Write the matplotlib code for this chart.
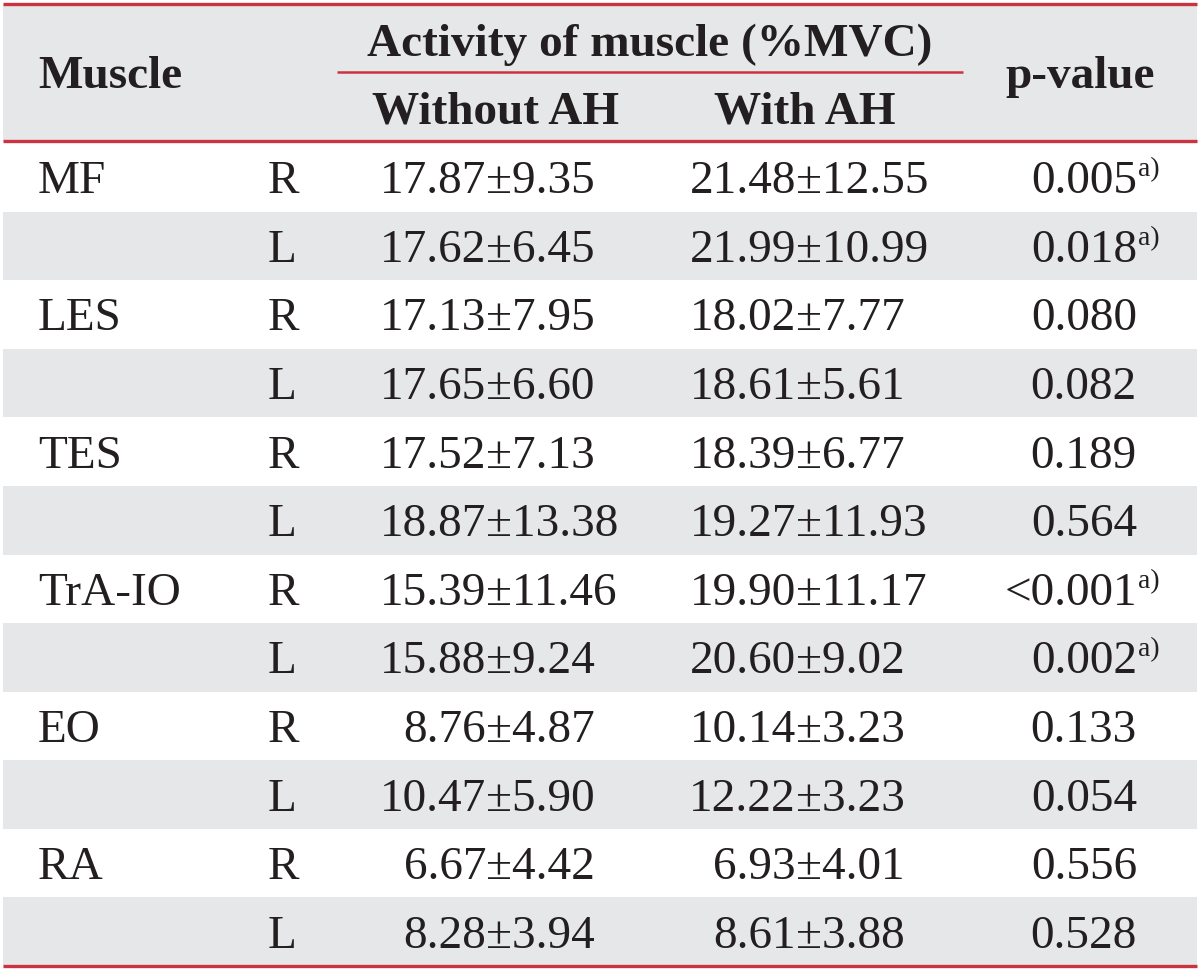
import matplotlib
matplotlib.use('Agg')
import matplotlib.pyplot as plt
from matplotlib.patches import Rectangle

# table contents
muscles = ['MF', 'LES', 'TES', 'TrA-IO', 'EO', 'RA']
sides = ['R', 'L']
without_mean = [17.87, 17.62, 17.13, 17.65, 17.52, 18.87, 15.39, 15.88, 8.76, 10.47, 6.67, 8.28]
without_sd = [9.35, 6.45, 7.95, 6.60, 7.13, 13.38, 11.46, 9.24, 4.87, 5.90, 4.42, 3.94]
with_mean = [21.48, 21.99, 18.02, 18.61, 18.39, 19.27, 19.90, 20.60, 10.14, 12.22, 6.93, 8.61]
with_sd = [12.55, 10.99, 7.77, 5.61, 6.77, 11.93, 11.17, 9.02, 3.23, 3.23, 4.01, 3.88]
p_values = ['0.005', '0.018', '0.080', '0.082', '0.189', '0.564',
            '<0.001', '0.002', '0.133', '0.054', '0.556', '0.528']
significant = [True, True, False, False, False, False, True, True, False, False, False, False]

col_headers = ['Muscle', 'Activity of muscle (%MVC)', 'Without AH', 'With AH', 'p-value']

RED = '#cc3341'
GRAY = '#e6e7e8'
INK = '#231f20'
FONT = 'Liberation Serif'

W, H = 1200, 972
fig = plt.figure(figsize=(W / 100, H / 100), dpi=100)
ax = fig.add_axes([0, 0, 1, 1])
ax.set_xlim(0, W)
ax.set_ylim(H, 0)
ax.axis('off')

x0, x1 = 3, 1197
head_top, head_bot = 4, 141
row_top, row_bot = 143, 966
n_rows = len(muscles) * len(sides)
row_h = (row_bot - row_top) / n_rows

# backgrounds
ax.add_patch(Rectangle((x0, head_top), x1 - x0, head_bot - head_top, color=GRAY, lw=0))
for i in range(n_rows):
    if i % 2 == 1:
        ax.add_patch(Rectangle((x0, row_top + i * row_h), x1 - x0, row_h, color=GRAY, lw=0))

# rules
for y in [head_top, head_bot, row_bot]:
    ax.plot([x0, x1], [y, y], color=RED, lw=2.4, solid_capstyle='butt')
ax.plot([337, 963], [72, 72], color=RED, lw=1.8, solid_capstyle='butt')

# header
hkw = dict(family=FONT, fontsize=34, fontweight='bold', color=INK)
ax.text(38, 72, col_headers[0], ha='left', va='center_baseline', **hkw)
ax.text(650, 40, col_headers[1], ha='center', va='center_baseline', **hkw)
ax.text(495, 107, col_headers[2], ha='center', va='center_baseline', **hkw)
ax.text(805, 107, col_headers[3], ha='center', va='center_baseline', **hkw)
ax.text(1080, 72, col_headers[4], ha='center', va='center_baseline', **hkw)

# body
bkw = dict(family=FONT, fontsize=34, color=INK, va='baseline')
for i in range(n_rows):
    yc = row_top + (i + 0.5) * row_h
    yb = yc + 16
    if i % 2 == 0:
        ax.text(38, yb, muscles[i // 2], ha='left', **bkw)
    ax.text(268, yb, sides[i % 2], ha='left', **bkw)
    # align on the plus-minus sign
    ax.text(486, yb, '%.2f' % without_mean[i], ha='right', **bkw)
    ax.text(486, yb, '±%.2f' % without_sd[i], ha='left', **bkw)
    ax.text(796, yb, '%.2f' % with_mean[i], ha='right', **bkw)
    ax.text(796, yb, '±%.2f' % with_sd[i], ha='left', **bkw)
    ax.text(1137, yb, p_values[i], ha='right', **bkw)
    if significant[i]:
        ax.text(1138, yb - 17, 'a)', family=FONT, fontsize=20, color=INK,
                ha='left', va='baseline')

fig.savefig('out.png', dpi=100)
